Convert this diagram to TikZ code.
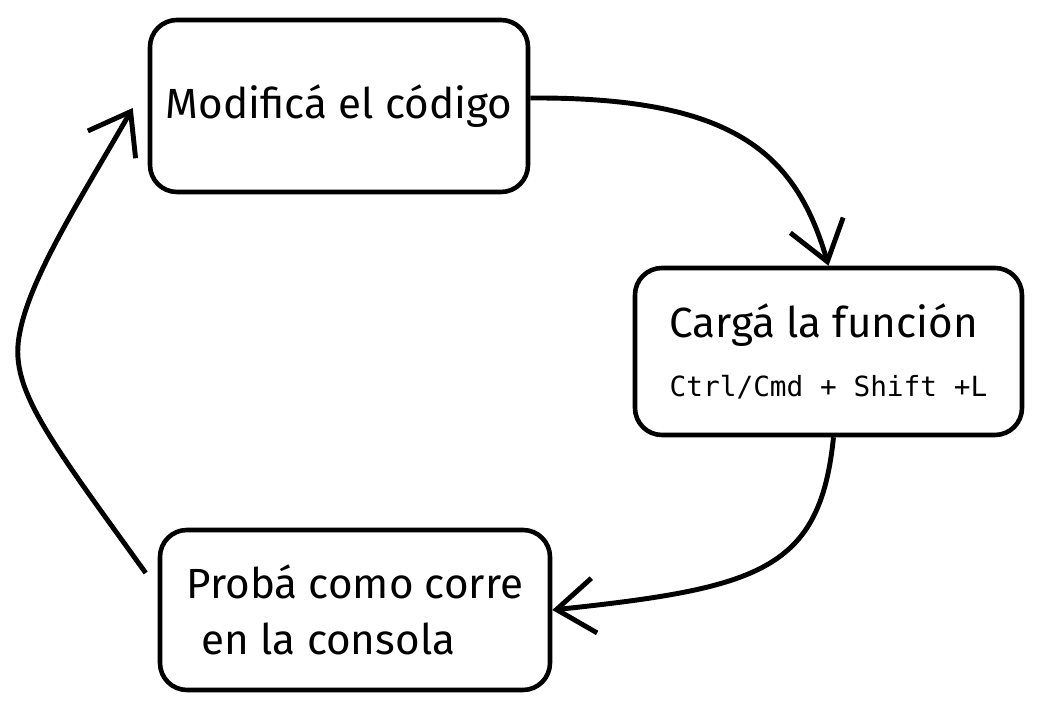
\documentclass[tikz,border=0pt]{standalone}
\usepackage{fontspec}
\setmainfont{Fira Sans}
\setmonofont{DejaVu Sans Mono}
\usepackage{tikz}
\usetikzlibrary{arrows.meta,positioning}

\begin{document}
\begin{tikzpicture}[
	box/.style={draw, line width=1.3pt, rounded corners=0.27cm, align=left,
		font=\fontsize{12}{16}\selectfont},
	arr/.style={line width=1.4pt, -{Straight Barb[length=3.8mm,width=5.5mm]}}
	]
	\useasboundingbox (0,0) rectangle (10.41,7.10);

	% The three steps of the loop
	\node [box, minimum width=3.78cm, minimum height=1.72cm] (mod) at (3.39, 6.04) {Modificá el código};
	\node [box, minimum width=3.87cm, minimum height=1.67cm] (carga) at (8.285, 3.585)
		{Cargá la función\\[1pt] {\ttfamily\fontsize{7.9}{10}\selectfont Ctrl/Cmd + Shift +L}};
	\node [box, minimum width=3.90cm, minimum height=1.60cm] (prueba) at (3.55, 1.00)
		{Probá como corre\\ \hspace*{1.5mm}en la consola};

	% Free ends of the arrow back to the top
	\coordinate (sal) at ([shift={(-0.12,0.37)}]prueba.west);
	\coordinate (ent) at ([shift={(-0.15,-0.02)}]mod.west);

	% Arrows between the steps
	\draw [arr] ([yshift=0.8mm]mod.east) .. controls (7.3, 6.13) and (7.95, 5.6) .. (carga.north);
	\draw [arr] ([xshift=0.5mm]carga.south) .. controls (8.2, 1.4) and (7.6, 1.22) .. (prueba.east);
	\draw [arr] (sal) .. controls (0.5, 2.7) and (0.1, 3.2) .. (0.19, 3.73)
		.. controls (0.28, 4.3) and (0.8, 5.1) .. (ent);
\end{tikzpicture}
\end{document}
